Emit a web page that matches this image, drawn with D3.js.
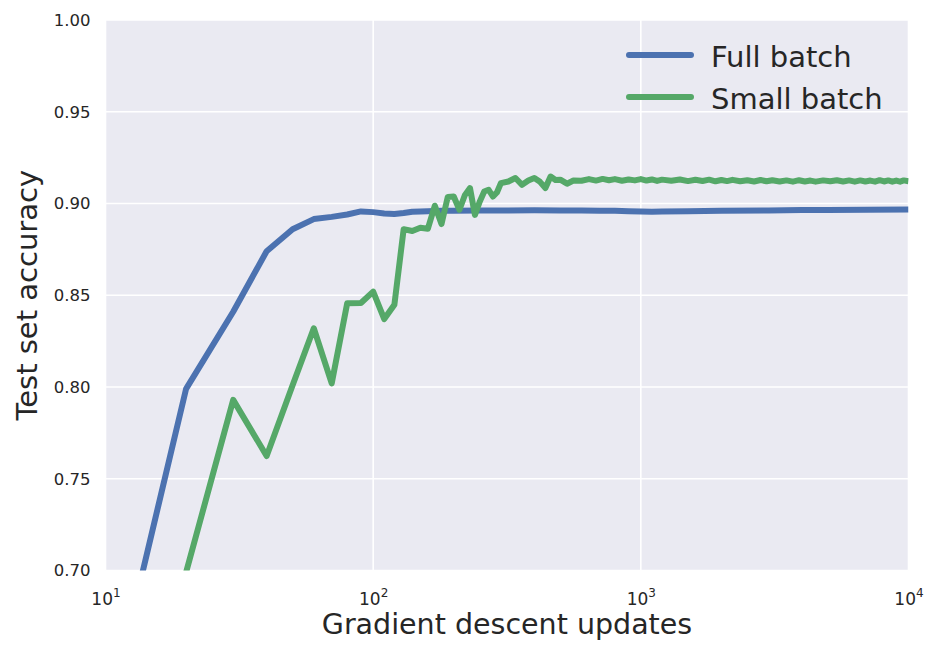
<!DOCTYPE html>
<html>
<head>
<meta charset="utf-8">
<script src="https://cdn.jsdelivr.net/npm/d3@7"></script>
<style>
  html, body { margin: 0; padding: 0; background: #ffffff; }
  svg { display: block; }
</style>
</head>
<body>
<svg id="chart" width="925" height="645"></svg>
<script>
// ---------- data ----------
const seriesNames = ["Full batch", "Small batch"];
const seriesColors = ["#4C72B0", "#55A868"];

const fullX = [10, 20, 30, 40, 50, 60, 70, 80, 90, 100, 110, 120, 130, 140, 150, 160, 180, 200, 250, 300, 400, 500, 600, 700, 800, 900, 1000, 1100, 1200, 1500, 2000, 3000, 4000, 5000, 7000, 10000];
const fullY = [0.614, 0.799, 0.841, 0.874, 0.886, 0.8915, 0.8927, 0.894, 0.8957, 0.8953, 0.8946, 0.8943, 0.8948, 0.8955, 0.8957, 0.8958, 0.896, 0.8961, 0.8962, 0.8962, 0.8963, 0.8962, 0.8962, 0.8961, 0.896, 0.8958, 0.8956, 0.8955, 0.8956, 0.8958, 0.896, 0.8962, 0.8964, 0.8965, 0.8966, 0.8967];

const smallX = [10, 20, 30, 40, 50, 60, 70, 80, 90, 100, 110, 120, 130, 140, 150, 160, 170, 180, 190, 200, 210, 220, 230, 240, 250, 260, 270, 280, 290, 300, 320, 340, 360, 380, 400, 420, 440, 460, 480, 500, 530, 560,
  600, 640, 680, 720, 760, 800, 850, 900, 950, 1000, 1050, 1100, 1150, 1200, 1300, 1400, 1500, 1600, 1700, 1800, 1900, 2000, 2100, 2200, 2350, 2500, 2650, 2800, 2950, 3100, 3300, 3500, 3700, 3900, 4100, 4300, 4500, 4800, 5100, 5400, 5700, 6000, 6300, 6600, 6900, 7200, 7500, 7800, 8100, 8400, 8700, 9000, 9300, 9600, 10000];
const smallY = [0.62, 0.699, 0.793, 0.7624, 0.801, 0.832, 0.802, 0.8457, 0.8458, 0.852, 0.837, 0.8448, 0.886, 0.885, 0.8868, 0.8862, 0.8988, 0.8888, 0.9036, 0.9038, 0.8966, 0.9045, 0.9084, 0.8938, 0.901, 0.9065, 0.9075, 0.9038, 0.906, 0.9111, 0.912, 0.9139, 0.9102, 0.9125, 0.9139, 0.9118, 0.9084, 0.9147, 0.9128, 0.913, 0.9108, 0.9125,
  0.9124, 0.9133, 0.9125, 0.9134, 0.9127, 0.9133, 0.9124, 0.9131, 0.9126, 0.9133, 0.9125, 0.9131, 0.9123, 0.913, 0.9124, 0.9131, 0.9122, 0.9129, 0.9123, 0.913, 0.9121, 0.9128, 0.9122, 0.9129, 0.9121, 0.9127, 0.912, 0.9128, 0.9121, 0.9127, 0.912, 0.9126, 0.9119, 0.9127, 0.912, 0.9125, 0.9119, 0.9126, 0.9121, 0.9127, 0.912, 0.9126, 0.9119, 0.9126, 0.912, 0.9125, 0.9119, 0.9127, 0.912, 0.9126, 0.9119, 0.9125, 0.9119, 0.9126, 0.9121];

const xTicks = [10, 100, 1000, 10000];
const xTickExp = ["1", "2", "3", "4"];
const yTicks = [0.70, 0.75, 0.80, 0.85, 0.90, 0.95, 1.00];

const xLabel = "Gradient descent updates";
const yLabel = "Test set accuracy";

// ---------- layout ----------
const W = 925, H = 645;
const margin = { left: 105.5, right: 16.5, top: 20, bottom: 74.5 };
const iw = W - margin.left - margin.right;
const ih = H - margin.top - margin.bottom;

const svg = d3.select("#chart");
const g = svg.append("g").attr("transform", `translate(${margin.left},${margin.top})`);

const x = d3.scaleLog().domain([10, 10000]).range([0, iw]);
const y = d3.scaleLinear().domain([0.70, 1.00]).range([ih, 0]);

// background
g.append("rect").attr("width", iw).attr("height", ih).attr("fill", "#EAEAF2");

// grid
g.append("g").selectAll("line").data(xTicks).join("line")
  .attr("x1", d => x(d)).attr("x2", d => x(d))
  .attr("y1", 0).attr("y2", ih)
  .attr("stroke", "#ffffff").attr("stroke-width", 1.6);
g.append("g").selectAll("line").data(yTicks).join("line")
  .attr("x1", 0).attr("x2", iw)
  .attr("y1", d => y(d)).attr("y2", d => y(d))
  .attr("stroke", "#ffffff").attr("stroke-width", 1.6);

// clip
svg.append("defs").append("clipPath").attr("id", "clip")
  .append("rect").attr("width", iw).attr("height", ih);

const line = d3.line().x(d => x(d[0])).y(d => y(d[1]));
const seriesData = [
  d3.zip(fullX, fullY),
  d3.zip(smallX, smallY)
];

const lines = g.append("g").attr("clip-path", "url(#clip)");
seriesData.forEach((data, i) => {
  lines.append("path")
    .datum(data)
    .attr("d", line)
    .attr("fill", "none")
    .attr("stroke", seriesColors[i])
    .attr("stroke-width", 6)
    .attr("stroke-linejoin", "round")
    .attr("stroke-linecap", "butt");
});

// y axis tick labels
const font = "DejaVu Sans, sans-serif";
const textColor = "#262626";
const yAxis = d3.axisLeft(y).tickValues(yTicks).tickFormat(d3.format(".2f")).tickSize(0).tickPadding(15);
const yg = g.append("g").call(yAxis);
yg.select(".domain").remove();
yg.selectAll("text").attr("font-family", font).attr("font-size", 16.5).attr("fill", textColor);

// x axis tick labels (10^n)
const xAxis = d3.axisBottom(x).tickValues(xTicks).tickSize(0).tickPadding(0).tickFormat(() => "");
const xg = g.append("g").attr("transform", `translate(0,${ih})`).call(xAxis);
xg.select(".domain").remove();
xg.selectAll(".tick").each(function(d, i) {
  const t = d3.select(this).append("text")
    .attr("y", 34)
    .attr("text-anchor", "middle")
    .attr("font-family", font)
    .attr("font-size", 17)
    .attr("fill", textColor);
  t.append("tspan").text("10");
  t.append("tspan").attr("dy", -8).attr("font-size", 12).text(xTickExp[i]);
});

// axis labels
svg.append("text")
  .attr("x", margin.left + iw / 2).attr("y", 634)
  .attr("text-anchor", "middle")
  .attr("font-family", font).attr("font-size", 28.5)
  .attr("fill", textColor)
  .text(xLabel);

svg.append("text")
  .attr("transform", `translate(37,${margin.top + ih / 2}) rotate(-90)`)
  .attr("text-anchor", "middle")
  .attr("font-family", font).attr("font-size", 29)
  .attr("fill", textColor)
  .text(yLabel);

// legend
const legend = svg.append("g");
seriesNames.forEach((name, i) => {
  const ly = 55 + i * 42;
  legend.append("line")
    .attr("x1", 629).attr("x2", 691)
    .attr("y1", ly).attr("y2", ly)
    .attr("stroke", seriesColors[i]).attr("stroke-width", 6)
    .attr("stroke-linecap", "round");
  legend.append("text")
    .attr("x", 711).attr("y", ly + 12)
    .attr("font-family", font).attr("font-size", 29)
    .attr("fill", textColor)
    .text(name);
});
</script>
</body>
</html>
